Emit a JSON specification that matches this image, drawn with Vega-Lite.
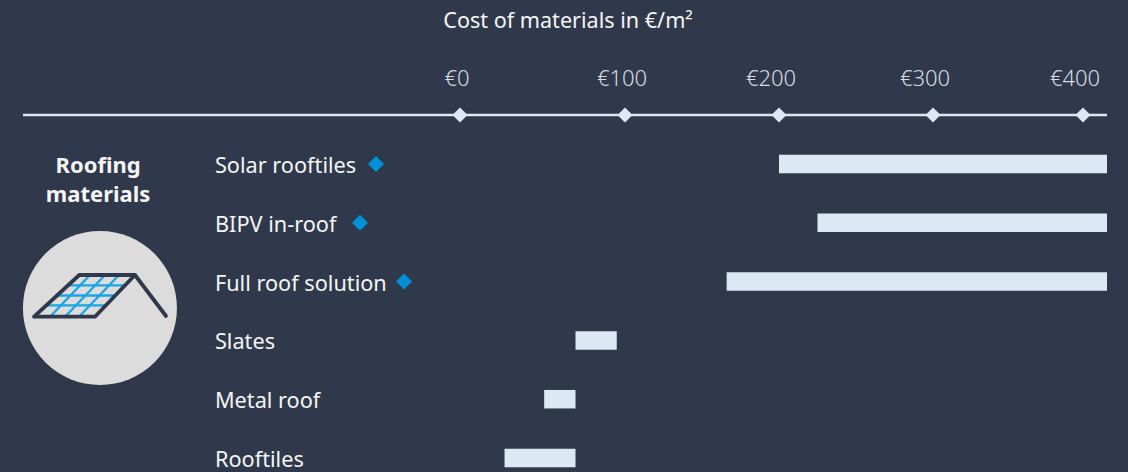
{
"$schema":"https://vega.github.io/schema/vega-lite/v6.json",
"width":1128,"height":472,"padding":0,
"autosize":{"type":"fit","contains":"padding"},
"background":"#2f394b",
"config":{"view":{"stroke":null}},
"datasets":{
"materials":[
{"material":"Solar rooftiles","row":1,"low":200,"high":416,"marker":-54.2},
{"material":"BIPV in-roof","row":2,"low":225,"high":416,"marker":-64.5},
{"material":"Full roof solution","row":3,"low":166,"high":416,"marker":-36.1},
{"material":"Slates","row":4,"low":70,"high":95},
{"material":"Metal roof","row":5,"low":51,"high":70},
{"material":"Rooftiles","row":6,"low":27,"high":70}],
"ticks":[{"cost":0,"label":"€0"},{"cost":100,"label":"€100"},{"cost":200,"label":"€200"},{"cost":300,"label":"€300"},{"cost":400,"label":"€400"}],
"grid":[
{"id":"h1","i":0,"gx":-252.9,"gy":3.063},{"id":"h1","i":1,"gx":-216.1,"gy":3.063},
{"id":"h2","i":0,"gx":-259.9,"gy":3.236},{"id":"h2","i":1,"gx":-222.4,"gy":3.236},
{"id":"h3","i":0,"gx":-266.9,"gy":3.406},{"id":"h3","i":1,"gx":-228.6,"gy":3.406},
{"id":"s1","i":0,"gx":-238.7,"gy":2.888},{"id":"s1","i":1,"gx":-264.5,"gy":3.597},
{"id":"s2","i":0,"gx":-229.0,"gy":2.888},{"id":"s2","i":1,"gx":-254.8,"gy":3.597},
{"id":"s3","i":0,"gx":-220.0,"gy":2.888},{"id":"s3","i":1,"gx":-245.8,"gy":3.597}],
"roof":[
{"id":"panel","i":0,"gx":-274.8,"gy":3.597},{"id":"panel","i":1,"gx":-245.6,"gy":2.888},{"id":"panel","i":2,"gx":-209.7,"gy":2.888},{"id":"panel","i":3,"gx":-235.5,"gy":3.597},{"id":"panel","i":4,"gx":-274.8,"gy":3.597},
{"id":"ridge","i":0,"gx":-209.7,"gy":2.888},{"id":"ridge","i":1,"gx":-189.7,"gy":3.585}]
},
"encoding":{
"x":{"type":"quantitative","axis":null,"scale":{"domain":[-296.77,0,100,200,300,400,430],"range":[0,460,625,779,933,1083,1128]}},
"y":{"type":"quantitative","axis":null,"scale":{"domain":[-1.789,6.238],"reverse":true,"padding":0,"nice":false}}
},
"layer":[
{"data":{"values":[{"from":-281.9,"to":416,"at":0.167}]},"mark":{"type":"rule","color":"#dce9f4","strokeWidth":2.4},
 "encoding":{"x":{"field":"from","type":"quantitative"},"x2":{"field":"to"},"y":{"field":"at","type":"quantitative"}}},
{"data":{"name":"ticks"},"transform":[{"calculate":"0.167","as":"at"}],"mark":{"type":"point","shape":"diamond","filled":true,"size":225,"color":"#dce9f4","opacity":1},
 "encoding":{"x":{"field":"cost","type":"quantitative"},"y":{"field":"at","type":"quantitative"}}},
{"data":{"name":"ticks"},"transform":[{"filter":"datum.cost<=100"},{"calculate":"-0.48","as":"at"}],"mark":{"type":"text","font":"Noto Sans","fontWeight":300,"fontSize":22,"color":"#d5dbe3","dx":-3,"dy":2,"baseline":"middle"},
 "encoding":{"x":{"field":"cost","type":"quantitative"},"y":{"field":"at","type":"quantitative"},"text":{"field":"label"}}},
{"data":{"name":"ticks"},"transform":[{"filter":"datum.cost>100"},{"calculate":"-0.48","as":"at"}],"mark":{"type":"text","font":"Noto Sans","fontWeight":300,"fontSize":22,"color":"#d5dbe3","dx":-8,"dy":2,"baseline":"middle"},
 "encoding":{"x":{"field":"cost","type":"quantitative"},"y":{"field":"at","type":"quantitative"},"text":{"field":"label"}}},
{"data":{"values":[{"t":"Cost of materials in €/m²","px":65.5,"at":-1.449}]},"mark":{"type":"text","font":"Noto Sans","fontSize":21.6,"color":"#f5f5f5","dy":2,"baseline":"middle"},
 "encoding":{"x":{"field":"px","type":"quantitative"},"y":{"field":"at","type":"quantitative"},"text":{"field":"t"}}},
{"data":{"name":"materials"},"mark":{"type":"bar","orient":"horizontal","size":18.5,"color":"#dce9f4"},
 "encoding":{"x":{"field":"low","type":"quantitative"},"x2":{"field":"high"},"y":{"field":"row","type":"quantitative"}}},
{"data":{"name":"materials"},"transform":[{"calculate":"-158.1","as":"lx"}],"mark":{"type":"text","font":"Noto Sans","fontSize":21.7,"color":"#f5f5f5","align":"left","dy":2,"baseline":"middle"},
 "encoding":{"x":{"field":"lx","type":"quantitative"},"y":{"field":"row","type":"quantitative"},"text":{"field":"material"}}},
{"data":{"name":"materials"},"transform":[{"filter":"isValid(datum.marker)"}],"mark":{"type":"point","shape":"diamond","filled":true,"size":256,"color":"#0090d8","opacity":1},
 "encoding":{"x":{"field":"marker","type":"quantitative"},"y":{"field":"row","type":"quantitative"}}},
{"data":{"values":[{"t":"Roofing","gx":-233.5,"gy":1.017},{"t":"materials","gx":-233.5,"gy":1.51}]},"mark":{"type":"text","font":"Noto Sans","fontWeight":"bold","fontSize":22,"color":"#f5f5f5","dy":1,"baseline":"middle"},
 "encoding":{"x":{"field":"gx","type":"quantitative"},"y":{"field":"gy","type":"quantitative"},"text":{"field":"t"}}},
{"data":{"values":[{"gx":-232.3,"gy":3.449}]},"mark":{"type":"point","shape":"circle","filled":true,"size":23716,"color":"#dcdcdc","opacity":1},
 "encoding":{"x":{"field":"gx","type":"quantitative"},"y":{"field":"gy","type":"quantitative"}}},
{"data":{"name":"grid"},"mark":{"type":"line","color":"#18a5e6","strokeWidth":2.3},
 "encoding":{"x":{"field":"gx","type":"quantitative"},"y":{"field":"gy","type":"quantitative"},"detail":{"field":"id"},"order":{"field":"i"}}},
{"data":{"name":"roof"},"mark":{"type":"line","color":"#2f394b","strokeWidth":3.8,"strokeCap":"round","strokeJoin":"round"},
 "encoding":{"x":{"field":"gx","type":"quantitative"},"y":{"field":"gy","type":"quantitative"},"detail":{"field":"id"},"order":{"field":"i"}}}
]
}
